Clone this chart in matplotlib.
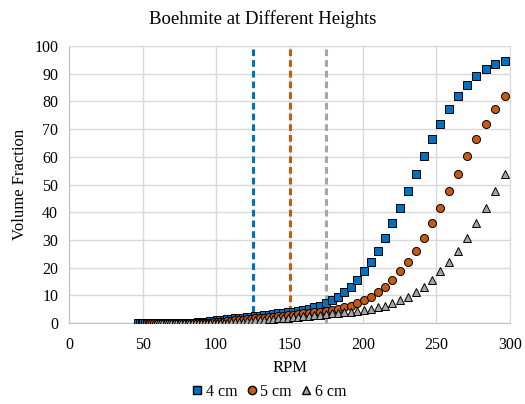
import matplotlib
matplotlib.use('Agg')
import matplotlib.pyplot as plt
from matplotlib.lines import Line2D

plt.rcParams['font.family'] = ['Liberation Serif', 'DejaVu Serif']

# RPM values (shared grid)
rpm = [47.0, 48.1, 49.2, 50.4, 51.5, 52.7, 54.0, 55.2, 56.5, 57.8,
       59.2, 60.6, 62.0, 63.4, 64.9, 66.4, 68.0, 69.5, 71.2, 72.8,
       74.5, 76.3, 78.0, 79.9, 81.7, 83.6, 85.6, 87.6, 89.6, 91.7,
       93.8, 96.0, 98.3, 100.6, 102.9, 105.3, 107.7, 110.3, 112.8, 115.5,
       118.2, 120.9, 123.7, 126.6, 129.6, 132.6, 135.7, 138.8, 142.1, 145.4,
       148.8, 152.2, 155.8, 159.4, 163.1, 166.9, 170.8, 174.8, 178.9, 183.1,
       187.3, 191.7, 196.2, 200.7, 205.4, 210.2, 215.1, 220.1, 225.2, 230.5,
       235.9, 241.4, 247.0, 252.8, 258.6, 264.7, 270.9, 277.2, 283.6, 290.2,
       297.0]

vf_4cm = [0.0, 0.0, 0.0, 0.0, 0.0, 0.0, 0.0, 0.0, 0.0, 0.0,
          0.0, 0.0, 0.0, 0.0, 0.0, 0.0, 0.0, 0.0, 0.0, 0.0,
          0.0, 0.0, 0.1, 0.1, 0.1, 0.2, 0.2, 0.3, 0.4, 0.5,
          0.6, 0.7, 0.8, 1.0, 1.1, 1.3, 1.4, 1.6, 1.7, 1.9,
          2.0, 2.2, 2.4, 2.5, 2.7, 2.9, 3.1, 3.3, 3.5, 3.7,
          3.9, 4.2, 4.5, 4.8, 5.2, 5.7, 6.3, 7.2, 8.3, 9.6,
          11.2, 13.2, 15.7, 18.9, 22.1, 26.2, 30.9, 36.3, 41.6, 47.7,
          54.0, 60.2, 66.3, 72.0, 77.3, 82.0, 85.9, 89.2, 91.7, 93.4,
          94.7]

# 5 cm series starts at the 6th rpm value
vf_5cm = [0.0, 0.0, 0.0, 0.0, 0.0, 0.0, 0.0, 0.0, 0.0, 0.0,
          0.0, 0.0, 0.0, 0.0, 0.0, 0.0, 0.0, 0.0, 0.0, 0.0,
          0.0, 0.0, 0.1, 0.1, 0.1, 0.2, 0.2, 0.3, 0.4, 0.5,
          0.6, 0.7, 0.8, 1.0, 1.1, 1.3, 1.4, 1.6, 1.7, 1.9,
          2.0, 2.2, 2.4, 2.5, 2.7, 2.9, 3.1, 3.3, 3.5, 3.7,
          3.9, 4.2, 4.5, 4.8, 5.2, 5.7, 6.3, 7.2, 8.3, 9.6,
          11.2, 13.2, 15.7, 18.9, 22.1, 26.2, 30.9, 36.3, 41.6, 47.7,
          54.0, 60.2, 66.3, 72.0, 77.3, 82.0]

# 6 cm series starts at the 11th rpm value
vf_6cm = [0.0, 0.0, 0.0, 0.0, 0.0, 0.0, 0.0, 0.0, 0.0, 0.0,
          0.0, 0.0, 0.0, 0.0, 0.0, 0.0, 0.0, 0.0, 0.0, 0.0,
          0.0, 0.0, 0.1, 0.1, 0.1, 0.2, 0.2, 0.3, 0.4, 0.5,
          0.6, 0.7, 0.8, 1.0, 1.1, 1.3, 1.4, 1.6, 1.7, 1.9,
          2.0, 2.2, 2.4, 2.5, 2.7, 2.9, 3.1, 3.3, 3.5, 3.7,
          3.9, 4.2, 4.5, 4.8, 5.2, 5.7, 6.3, 7.2, 8.3, 9.6,
          11.2, 13.2, 15.7, 18.9, 22.1, 26.2, 30.9, 36.3, 41.6, 47.7,
          54.0]

labels = ['4 cm', '5 cm', '6 cm']
line_rpm = [125, 150, 175]

blue = '#0070C0'
orange = '#C55A11'
gray = '#A5A5A5'

fig = plt.figure(figsize=(5.25, 4.04), dpi=100)
ax = fig.add_axes([0.132, 0.200, 0.839, 0.686])

ax.plot(rpm, vf_4cm, 's', color=blue, markersize=5.4, markeredgecolor='black',
        markeredgewidth=0.7, zorder=3)
ax.plot(rpm[5:], vf_5cm, 'o', color=orange, markersize=5.8, markeredgecolor='black',
        markeredgewidth=0.7, zorder=4)
ax.plot(rpm[10:], vf_6cm, '^', color=gray, markersize=6.0, markeredgecolor='black',
        markeredgewidth=0.7, zorder=5)

# vertical dashed lines
for x, c in zip(line_rpm, [blue, orange, gray]):
    ax.axvline(x, color=c, linewidth=2.2, linestyle=(0, (2.2, 1.3)), zorder=2)

ax.set_xlim(0, 300)
ax.set_ylim(0, 100)
ax.set_xticks(range(0, 301, 50))
ax.set_yticks(range(0, 101, 10))
ax.grid(True, color='#D9D9D9', linewidth=1)
ax.set_axisbelow(True)
ax.tick_params(length=0, labelsize=11.5)
ax.tick_params(axis='x', pad=10)
ax.tick_params(axis='y', pad=8)
for s in ax.spines.values():
    s.set_color('#D9D9D9')
ax.spines['left'].set_color('#BFBFBF')
ax.spines['bottom'].set_color('#BFBFBF')

ax.set_xlabel('RPM', fontsize=12, labelpad=5)
ax.set_ylabel('Volume Fraction', fontsize=12, labelpad=4.5)
fig.suptitle('Boehmite at Different Heights', fontsize=13.5, x=0.5, y=0.975)

handles = [
    Line2D([], [], marker='s', linestyle='', color=blue, markeredgecolor='black', markersize=6),
    Line2D([], [], marker='o', linestyle='', color=orange, markeredgecolor='black', markersize=6),
    Line2D([], [], marker='^', linestyle='', color=gray, markeredgecolor='black', markersize=6),
]
fig.legend(handles, labels, loc='lower center', bbox_to_anchor=(0.51, -0.025), ncol=3,
           frameon=False, fontsize=11.5, handletextpad=0.05, columnspacing=0.4,
           handlelength=1.0)

fig.savefig('out.png', dpi=100)
